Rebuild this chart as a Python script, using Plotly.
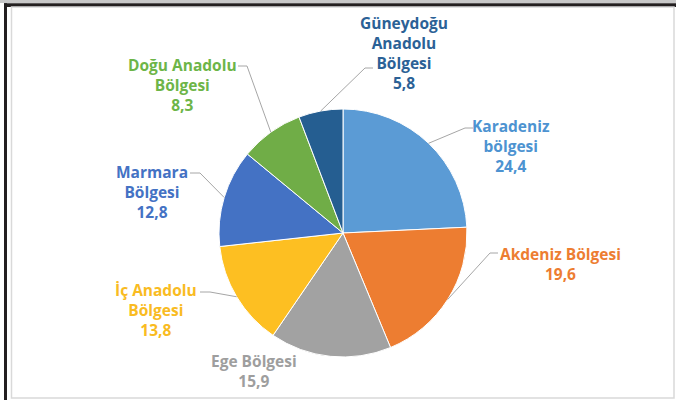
import math
import plotly.graph_objects as go

# ---- data ----
regions = ["Karadeniz bölgesi", "Akdeniz Bölgesi", "Ege Bölgesi", "İç Anadolu Bölgesi",
           "Marmara Bölgesi", "Doğu Anadolu Bölgesi", "Güneydoğu Anadolu Bölgesi"]
values = [24.4, 19.6, 15.9, 13.8, 12.8, 8.3, 5.8]
label_lines = [["Karadeniz", "bölgesi"], ["Akdeniz Bölgesi"], ["Ege Bölgesi"],
               ["İç Anadolu", "Bölgesi"], ["Marmara", "Bölgesi"],
               ["Doğu Anadolu", "Bölgesi"], ["Güneydoğu", "Anadolu", "Bölgesi"]]

# ---- styles ----
slice_colors = ["#5B9BD5", "#ED7D31", "#A2A2A2", "#FDBF22", "#4472C4", "#70AD47", "#255E91"]
text_colors = ["#4D93D1", "#ED7D31", "#9E9E9E", "#F9BB22", "#4472C4", "#6DB548", "#2B6196"]

W, H = 676, 400
CX, CY, R = 343, 233, 124

# label positions (pixel) and leader-line elbows (pixel); None = no leader
label_pos = [(511, 146), (560, 264), (254, 371), (156, 310), (152, 192), (182, 85), (404, 53)]
elbows = [((465, 128), (473, 128)), ((490, 253), (498, 253)), None,
          ((210, 292), (200, 292)), ((200, 173), (190, 173)),
          ((247, 66), (238, 66)), ((365, 68), (373, 68))]

def px(x):
    return x / W

def py(y):
    return 1 - y / H

fig = go.Figure(go.Pie(
    labels=regions, values=values, sort=False, direction="clockwise", rotation=0,
    marker=dict(colors=slice_colors, line=dict(color="white", width=1)),
    textinfo="none", hoverinfo="label+value", showlegend=False,
    domain=dict(x=[px(CX - R), px(CX + R)], y=[py(CY + R), py(CY - R)]),
))

shapes = []
annotations = []
total = sum(values)
cum = 0
for i, v in enumerate(values):
    mid = (cum + v / 2) / total * 2 * math.pi
    cum += v
    ex = CX + R * math.sin(mid)
    ey = CY - R * math.cos(mid)
    if elbows[i] is not None:
        (x1, y1), (x2, y2) = elbows[i]
        shapes.append(dict(type="path", xref="paper", yref="paper",
                           path=f"M {px(ex)},{py(ey)} L {px(x1)},{py(y1)} L {px(x2)},{py(y2)}",
                           line=dict(color="#A6A6A6", width=1)))
    txt = "<br>".join(label_lines[i] + [f"{v:.1f}".replace(".", ",")])
    lx, ly = label_pos[i]
    annotations.append(dict(x=px(lx), y=py(ly), xref="paper", yref="paper",
                            text=f"<b>{txt}</b>", showarrow=False,
                            xanchor="center", yanchor="middle", align="center",
                            font=dict(family="Open Sans", size=15.5, color=text_colors[i])))

# frame
shapes += [
    dict(type="rect", xref="paper", yref="paper", x0=0, x1=1, y0=py(3), y1=1,
         fillcolor="#C8C8C8", line=dict(width=0), layer="above"),
    dict(type="rect", xref="paper", yref="paper", x0=px(4), x1=1, y0=py(7), y1=py(3.3),
         fillcolor="#231F20", line=dict(width=0), layer="above"),
    dict(type="rect", xref="paper", yref="paper", x0=px(4), x1=px(7), y0=0, y1=py(3.3),
         fillcolor="#231F20", line=dict(width=0), layer="above"),
    dict(type="rect", xref="paper", yref="paper", x0=px(11.5), x1=px(674), y0=py(398), y1=py(7),
         fillcolor="rgba(0,0,0,0)", line=dict(color="#D9D9D9", width=1.5), layer="above"),
]

fig.update_layout(
    width=W, height=H, margin=dict(l=0, r=0, t=0, b=0),
    paper_bgcolor="white", plot_bgcolor="white",
    shapes=shapes, annotations=annotations,
)

fig.write_html("out.html", config={"displayModeBar": False})

# remove default page margin so the figure sits at the window origin
with open("out.html", encoding="utf-8") as f:
    html = f.read()
html = html.replace("<head>", "<head><style>html,body{margin:0;padding:0;overflow:hidden;}</style>", 1)
with open("out.html", "w", encoding="utf-8") as f:
    f.write(html)
